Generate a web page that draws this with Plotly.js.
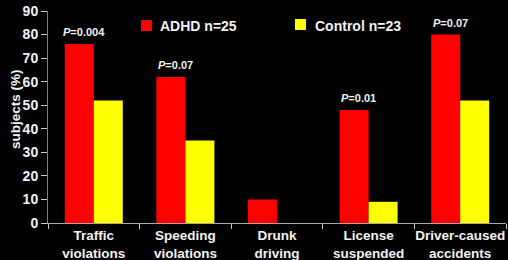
<!DOCTYPE html>
<html>
<head>
<meta charset="utf-8">
<script src="https://cdn.plot.ly/plotly-3.0.1.min.js"></script>
<style>
  html, body { margin: 0; padding: 0; background: #000; }
  #chart { width: 508px; height: 260px; }
</style>
</head>
<body>
<div id="chart"></div>
<script>
const categories = ["Traffic<br>violations", "Speeding<br>violations", "Drunk<br>driving", "License<br>suspended", "Driver-caused<br>accidents"];
const adhdName = "ADHD n=25";
const controlName = "Control n=23";
const adhdValues = [76, 62, 10, 48, 80];
const controlValues = [52, 35, 0, 9, 52];
const pLabels = ["0.004", "0.07", null, "0.01", "0.07"];
const yTicks = [0, 10, 20, 30, 40, 50, 60, 70, 80, 90];

const W = 508, H = 260;
const M = {l: 48, r: 2, t: 11, b: 37};
const pw = W - M.l - M.r, ph = H - M.t - M.b;
const px = x => (x - M.l) / pw;
const py = y => (H - M.b - y) / ph;

const textColor = "#f2f2f2";
const fontFam = "Liberation Sans, Arial, sans-serif";

const traces = [
  {type: "bar", name: adhdName, x: categories, y: adhdValues, marker: {color: "#ff0000"}, hoverinfo: "none"},
  {type: "bar", name: controlName, x: categories, y: controlValues, marker: {color: "#ffff00"}, hoverinfo: "none"}
];

const annotations = [];
pLabels.forEach((p, i) => {
  if (p === null) return;
  annotations.push({
    x: i, y: adhdValues[i], xref: "x", yref: "y",
    text: "<i>P</i>=" + p, showarrow: false,
    xanchor: "center", yanchor: "middle", xshift: -10, yshift: 12,
    font: {family: fontFam, size: 11, color: textColor, weight: "bold"}
  });
});
// legend labels
annotations.push({x: px(158), y: py(25.5), xref: "paper", yref: "paper", text: adhdName, showarrow: false,
  xanchor: "left", yanchor: "middle", font: {family: fontFam, size: 14, color: textColor, weight: "bold"}});
annotations.push({x: px(313), y: py(25.5), xref: "paper", yref: "paper", text: controlName, showarrow: false,
  xanchor: "left", yanchor: "middle", font: {family: fontFam, size: 14, color: textColor, weight: "bold"}});
// y title
annotations.push({x: px(15), y: py(109), xref: "paper", yref: "paper", text: "subjects (%)", showarrow: false,
  textangle: -90, xanchor: "center", yanchor: "middle", font: {family: fontFam, size: 13.5, color: textColor, weight: "bold"}});

const shapes = [
  {type: "rect", xref: "paper", yref: "paper", x0: px(141), x1: px(152), y0: py(31), y1: py(20), fillcolor: "#ff0000", line: {width: 0}},
  {type: "rect", xref: "paper", yref: "paper", x0: px(295), x1: px(306), y0: py(30), y1: py(19), fillcolor: "#ffff00", line: {width: 0}}
];

const layout = {
  width: W, height: H,
  margin: M,
  paper_bgcolor: "#000", plot_bgcolor: "#000",
  showlegend: false,
  barmode: "group", bargap: 0.367, bargroupgap: 0,
  xaxis: {
    type: "category", tickson: "boundaries", ticks: "outside", ticklen: 5, tickcolor: "#c8c8c8", tickwidth: 1,
    tickangle: 0, automargin: false,
    showline: true, linecolor: "#a8a8a8", linewidth: 1, showgrid: false, zeroline: false,
    tickfont: {family: fontFam, size: 13.5, color: textColor, weight: "bold"}, fixedrange: true
  },
  yaxis: {
    range: [0, 90], tickvals: yTicks, ticks: "outside", ticklen: 6, tickcolor: "#c8c8c8",
    showline: true, linecolor: "#7474c8", linewidth: 1, showgrid: false, zeroline: false, automargin: false,
    tickfont: {family: fontFam, size: 14, color: textColor, weight: "bold"}, fixedrange: true
  },
  annotations: annotations,
  shapes: shapes
};

Plotly.newPlot("chart", traces, layout, {displayModeBar: false, staticPlot: true});
</script>
</body>
</html>
